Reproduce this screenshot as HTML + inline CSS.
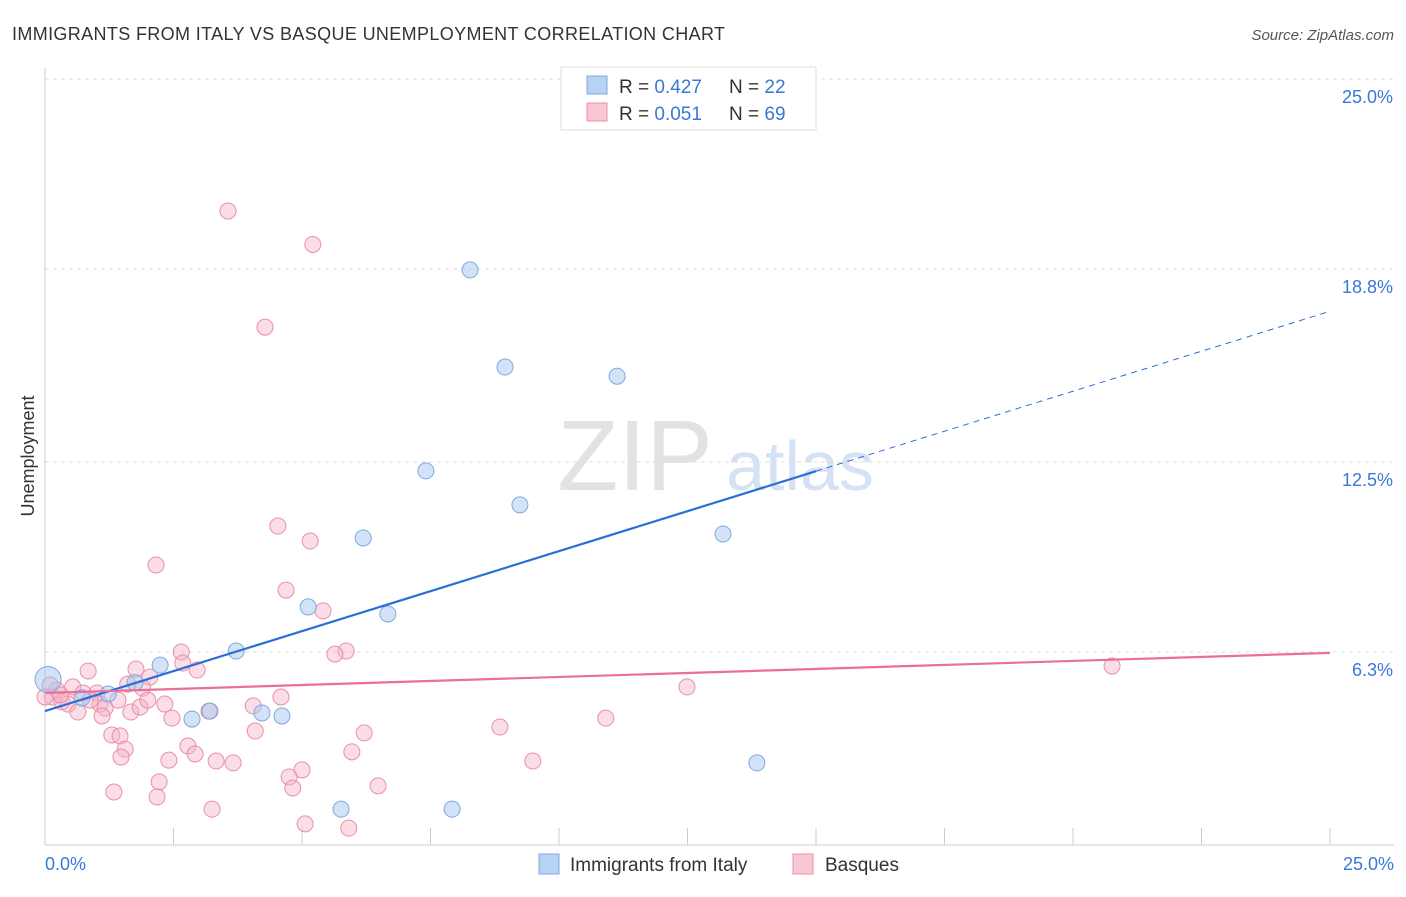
<!DOCTYPE html>
<html><head><meta charset="utf-8"><style>
body{margin:0;background:#fff;font-family:"Liberation Sans",sans-serif;}
svg text{font-family:"Liberation Sans",sans-serif;}
</style></head><body>
<svg width="1406" height="892" xmlns="http://www.w3.org/2000/svg">
<text x="12" y="40" font-size="18" fill="#333" textLength="713" lengthAdjust="spacing">IMMIGRANTS FROM ITALY VS BASQUE UNEMPLOYMENT CORRELATION CHART</text>
<text x="1394" y="40" font-size="15" fill="#555" font-style="italic" text-anchor="end">Source: ZipAtlas.com</text>
<text x="635" y="490" font-size="100" fill="#e2e2e2" font-family="Liberation Serif" text-anchor="middle">ZIP</text>
<text x="800" y="490" font-size="70" fill="#d4e2f4" text-anchor="middle">atlas</text>
<g id="grid"></g>
<g id="axes"></g>
<text transform="translate(34,456) rotate(-90)" font-size="18" fill="#333" text-anchor="middle">Unemployment</text>
<g id="marks"></g>
<g>
<rect x="561" y="67" width="255" height="63" fill="#fff" stroke="#ddd"/>
<rect x="587" y="76" width="20" height="18" fill="#b8d2f4" stroke="#7fa8e0"/>
<rect x="587" y="103" width="20" height="18" fill="#f9c6d4" stroke="#e890a8"/>
<text x="619" y="93" font-size="19" fill="#333">R = <tspan fill="#3a78d8">0.427</tspan></text>
<text x="729" y="93" font-size="19" fill="#333">N = <tspan fill="#3a78d8">22</tspan></text>
<text x="619" y="120" font-size="19" fill="#333">R = <tspan fill="#3a78d8">0.051</tspan></text>
<text x="729" y="120" font-size="19" fill="#333">N = <tspan fill="#3a78d8">69</tspan></text>
</g>
<g>
<rect x="539" y="854" width="20" height="20" fill="#b8d2f4" stroke="#7fa8e0"/>
<text x="570" y="871" font-size="19" fill="#333">Immigrants from Italy</text>
<rect x="793" y="854" width="20" height="20" fill="#f9c6d4" stroke="#e890a8"/>
<text x="825" y="871" font-size="19" fill="#333">Basques</text>
</g>
</svg>
<script>
const yTicks=[25,18.8,12.5,6.3];
const yTickLabels=["25.0%","18.8%","12.5%","6.3%"];
const xTickCount=10;
const italyX=[0.06,1.23,0.72,1.75,2.24,2.86,3.21,3.72,4.22,4.61,5.12,5.76,6.19,6.67,7.41,7.92,8.27,8.95,9.24,11.13,13.19,13.85];
const italyY=[5.4,4.93,4.8,5.3,5.87,4.11,4.37,6.33,4.31,4.21,7.77,1.17,10.02,7.54,12.21,1.17,18.77,15.6,11.1,15.3,10.15,2.68];
const basqueX=[3.56,5.21,4.28,4.53,5.16,2.16,4.69,5.41,5.86,5.64,2.65,2.68,2.96,1.77,0.84,2.04,1.9,1.61,0.54,1.01,0.1,0.14,0.33,0.45,0.64,1.07,1.17,1.11,1.67,1.85,2.33,2.47,4.05,4.59,3.19,1.3,1.46,1.56,1.48,2.78,2.92,2.41,3.33,3.66,4.09,6.21,5.97,5.0,4.75,4.82,6.48,2.22,1.34,2.18,3.25,5.06,5.91,8.85,9.49,10.91,12.49,20.76,0.23,0.88,1.42,2.0,0.74,0.0,0.3];
const basqueY=[20.69,19.6,16.9,10.41,9.92,9.14,8.32,7.64,6.33,6.23,6.3,5.94,5.71,5.74,5.68,5.48,5.12,5.25,5.16,4.96,5.22,4.83,4.67,4.6,4.34,4.6,4.47,4.21,4.34,4.5,4.6,4.14,4.54,4.83,4.37,3.59,3.56,3.13,2.87,3.23,2.97,2.77,2.74,2.68,3.72,3.66,3.04,2.45,2.22,1.86,1.93,2.06,1.73,1.57,1.17,0.69,0.55,3.85,2.74,4.14,5.16,5.84,5.06,4.73,4.73,4.73,4.96,4.83,4.9];
const italyLine=[4.37,17.42];
const italySolidEnd=15;
const basqueLine=[4.96,6.27];
const NS="http://www.w3.org/2000/svg";
const X=v=>45+v*(1285/25), Y=v=>845-v*30.64;
function mk(t,a,p){const e=document.createElementNS(NS,t);for(const k in a)e.setAttribute(k,a[k]);p.appendChild(e);return e;}
const grid=document.getElementById('grid'),axes=document.getElementById('axes'),marks=document.getElementById('marks');
yTicks.forEach((t,i)=>{const l=mk('line',{x1:45,x2:1394,y1:Y(t),y2:Y(t),stroke:'#ddd','stroke-dasharray':'4,4'},grid);


const tx=mk('text',{x:1393,y:Y(t)+24,'font-size':18,fill:'#3a78d8','text-anchor':'end'},axes);tx.textContent=yTickLabels[i];

});
mk('line',{x1:45,x2:45,y1:68,y2:845,stroke:'#ccc'},axes);
mk('line',{x1:45,x2:1394,y1:845,y2:845,stroke:'#ccc'},axes);
for(let i=0;i<=xTickCount;i++){const x=X(i*25/xTickCount);const t=mk('line',{x1:x,x2:x,y1:828,y2:845,stroke:'#ccc'},axes);

}
const x0=mk('text',{x:45,y:870,'font-size':18,fill:'#3a78d8'},axes);x0.textContent='0.0%';


const x1=mk('text',{x:1394,y:870,'font-size':18,fill:'#3a78d8','text-anchor':'end'},axes);x1.textContent='25.0%';


basqueX.forEach((v,i)=>{const c=mk('circle',{cx:X(v),cy:Y(basqueY[i]),r:8,fill:'rgba(245,180,200,0.45)',stroke:'#e890a8','stroke-width':1},marks);

});
italyX.forEach((v,i)=>{const c=mk('circle',{cx:X(v),cy:Y(italyY[i]),r:i==0?13:8,fill:'rgba(168,200,240,0.5)',stroke:'#7fa8e0','stroke-width':1},marks);

});
const iy=x=>italyLine[0]+(italyLine[1]-italyLine[0])*x/25;
let l=mk('line',{x1:X(0),y1:Y(iy(0)),x2:X(italySolidEnd),y2:Y(iy(italySolidEnd)),stroke:'#2a6fd6','stroke-width':2.2},marks);


l=mk('line',{x1:X(italySolidEnd),y1:Y(iy(italySolidEnd)),x2:X(25),y2:Y(iy(25)),stroke:'#2a6fd6','stroke-width':1,'stroke-dasharray':'6,5'},marks);


l=mk('line',{x1:X(0),y1:Y(basqueLine[0]),x2:X(25),y2:Y(basqueLine[1]),stroke:'#e8709a','stroke-width':2.2},marks);


</script>
</body></html>
